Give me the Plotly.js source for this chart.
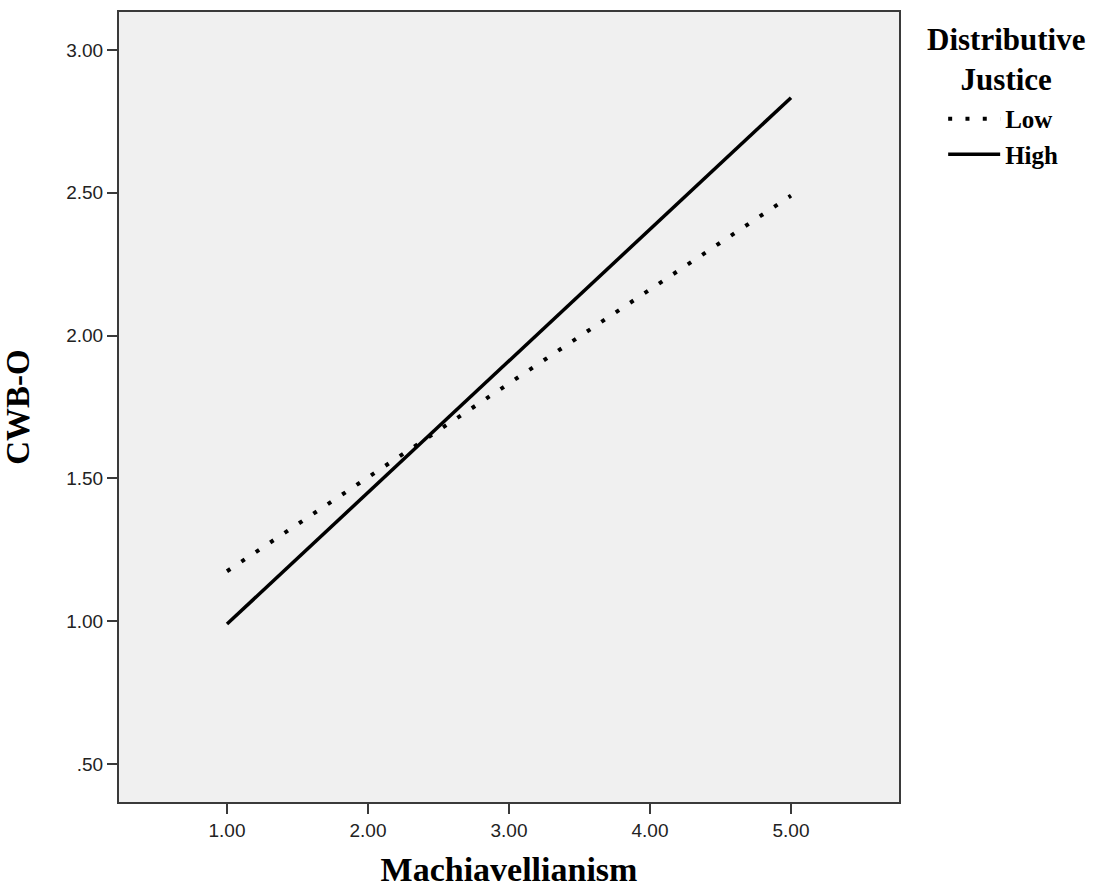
<!DOCTYPE html>
<html>
<head>
<meta charset="utf-8">
<script src="https://cdn.plot.ly/plotly-3.0.1.min.js"></script>
<style>html,body{margin:0;padding:0;background:#fff;}#chart{width:1107px;height:888px;}</style>
</head>
<body>
<div id="chart"></div>
<script>
// Data
const machX = [1.00, 5.00];
const lowY = [1.175, 2.49];
const highY = [0.99, 2.833];
const seriesNames = ["Low", "High"];
const xTickVals = [1, 2, 3, 4, 5];
const xTickText = ["1.00", "2.00", "3.00", "4.00", "5.00"];
const yTickVals = [0.5, 1.0, 1.5, 2.0, 2.5, 3.0];
const yTickText = [".50", "1.00", "1.50", "2.00", "2.50", "3.00"];
const xTitle = "Machiavellianism";
const yTitle = "CWB-O";
const legendTitle = "Distributive<br>Justice";

const serif = "Liberation Serif, Times New Roman, serif";
const sans = "Liberation Sans, Arial, sans-serif";

const traces = [
  {x: machX, y: lowY, name: seriesNames[0], mode: "lines",
   line: {color: "#000", width: 4, dash: "4px,13.3px"}},
  {x: machX, y: highY, name: seriesNames[1], mode: "lines",
   line: {color: "#000", width: 3.5}}
];

const axisCommon = {
  showgrid: false, zeroline: false, showline: true, mirror: true,
  linecolor: "#3a3a3a", linewidth: 2,
  ticks: "outside", ticklen: 10, tickwidth: 2, tickcolor: "#3a3a3a",
  tickfont: {family: sans, size: 19, color: "#222"},
  fixedrange: true
};

const layout = {
  width: 1107, height: 888,
  margin: {l: 119, r: 208, t: 12, b: 86},
  paper_bgcolor: "#ffffff",
  plot_bgcolor: "#f0f0f0",
  xaxis: Object.assign({}, axisCommon, {
    range: [0.234, 5.766], tickvals: xTickVals, ticktext: xTickText,
    title: {text: xTitle, font: {family: serif, size: 34, weight: "bold", color: "#000"}, standoff: 26}
  }),
  yaxis: Object.assign({}, axisCommon, {
    range: [0.367, 3.133], tickvals: yTickVals, ticktext: yTickText,
    title: {text: yTitle, font: {family: serif, size: 33, weight: "bold", color: "#000"}, standoff: 33}
  }),
  showlegend: true,
  legend: {
    xref: "container", yref: "container",
    x: 0.852, y: 0.892, xanchor: "left", yanchor: "top",
    bgcolor: "rgba(0,0,0,0)", borderwidth: 0,
    itemwidth: 52,
    font: {family: serif, size: 25, weight: "bold", color: "#000"}
  },
  annotations: [
    {xref: "paper", yref: "paper", x: 1.137, y: 1.0, text: legendTitle, showarrow: false,
     xanchor: "center", yanchor: "top", yshift: -8,
     font: {family: serif, size: 31, weight: "bold", color: "#000"}}
  ]
};

Plotly.newPlot("chart", traces, layout, {displayModeBar: false, staticPlot: true});
</script>
</body>
</html>
